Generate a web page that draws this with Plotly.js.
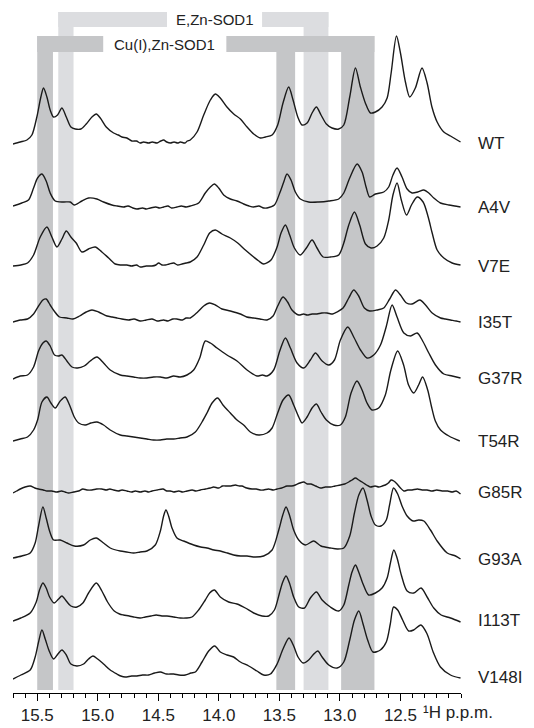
<!DOCTYPE html>
<html>
<head>
<meta charset="utf-8">
<script src="https://cdn.plot.ly/plotly-3.0.1.min.js"></script>
<style>
  html, body { margin: 0; padding: 0; background: #fff; }
  #chart { width: 534px; height: 728px; }
</style>
</head>
<body>
<div id="chart"></div>
<script>
// Imino proton region of 1H NMR spectra, [ppm, intensity] pairs per SOD1 variant
const WT = [[15.70,-1],[15.64,1],[15.585,3],[15.544,8],[15.503,26],[15.47,46],[15.448,55],[15.42,46],[15.393,33],[15.365,26],[15.332,28],[15.296,35],[15.26,26],[15.222,16],[15.186,14],[15.139,14],[15.095,19],[15.048,26],[15.012,29],[14.979,25],[14.93,16],[14.869,10],[14.83,8],[14.80,6],[14.76,5],[14.718,2],[14.68,2],[14.65,0],[14.621,1],[14.58,0],[14.55,1],[14.51,0],[14.48,2],[14.456,3],[14.43,1],[14.40,0],[14.37,1],[14.34,0],[14.318,1],[14.28,0],[14.26,2],[14.236,3],[14.18,11],[14.125,28],[14.07,43],[14.029,49],[13.988,45],[13.933,36],[13.877,29],[13.822,24],[13.767,16],[13.712,9],[13.657,5],[13.616,6],[13.56,8],[13.514,18],[13.47,40],[13.423,56],[13.387,43],[13.348,26],[13.313,18],[13.271,20],[13.23,30],[13.194,36],[13.156,28],[13.112,19],[13.065,15],[13.01,14],[12.968,18],[12.919,46],[12.872,75],[12.831,56],[12.79,40],[12.748,30],[12.707,31],[12.652,36],[12.61,45],[12.577,70],[12.533,107],[12.5,90],[12.459,61],[12.423,46],[12.377,55],[12.322,75],[12.28,60],[12.24,36],[12.197,21],[12.142,11],[12.087,7],[12.004,1]];

const A4V = [[15.70,1],[15.627,4],[15.572,7],[15.53,19],[15.497,29],[15.461,33],[15.426,26],[15.393,14],[15.351,6],[15.282,5],[15.227,5],[15.194,2],[15.131,6],[15.076,9],[15.007,8],[14.952,5],[14.883,2],[14.84,1],[14.787,0],[14.75,1],[14.71,-1],[14.676,-2],[14.63,-1],[14.60,-2],[14.566,-1],[14.52,0],[14.49,-1],[14.456,0],[14.42,1],[14.39,-1],[14.346,0],[14.31,1],[14.27,0],[14.236,1],[14.167,4],[14.112,14],[14.07,20],[14.037,23],[14.001,19],[13.96,12],[13.905,8],[13.85,6],[13.795,3],[13.75,1],[13.712,0],[13.67,1],[13.63,-1],[13.602,-1],[13.541,2],[13.497,14],[13.464,25],[13.437,33],[13.404,27],[13.368,15],[13.327,8],[13.258,5],[13.175,5],[13.092,6],[13.01,8],[12.968,14],[12.919,29],[12.858,43],[12.817,35],[12.784,20],[12.754,10],[12.707,13],[12.638,15],[12.597,20],[12.562,32],[12.528,39],[12.487,30],[12.445,18],[12.404,14],[12.357,15],[12.307,17],[12.266,14],[12.225,9],[12.17,4],[12.1,2],[12.004,0]];

const V7E = [[15.70,0],[15.635,1],[15.58,3],[15.53,11],[15.475,29],[15.42,39],[15.379,29],[15.337,19],[15.296,27],[15.26,35],[15.222,29],[15.178,23],[15.131,14],[15.076,17],[15.021,19],[14.966,14],[14.91,8],[14.855,2],[14.81,1],[14.759,1],[14.72,0],[14.68,1],[14.649,-1],[14.60,0],[14.552,0],[14.52,1],[14.497,3],[14.47,1],[14.442,1],[14.41,2],[14.373,3],[14.34,1],[14.304,2],[14.27,3],[14.236,4],[14.18,9],[14.125,21],[14.076,33],[14.029,36],[13.974,32],[13.905,28],[13.844,23],[13.781,16],[13.712,9],[13.67,5],[13.63,2],[13.569,6],[13.519,19],[13.486,33],[13.45,41],[13.415,31],[13.376,18],[13.327,11],[13.277,18],[13.23,26],[13.189,18],[13.139,9],[13.079,9],[13.01,11],[12.968,23],[12.927,41],[12.88,54],[12.837,41],[12.789,22],[12.743,18],[12.693,20],[12.638,28],[12.597,46],[12.562,71],[12.528,83],[12.493,66],[12.45,51],[12.409,61],[12.362,69],[12.313,64],[12.271,49],[12.238,33],[12.197,16],[12.142,8],[12.073,3],[12.004,1]];

const I35T = [[15.70,0],[15.64,2],[15.58,3],[15.53,8],[15.489,16],[15.453,22],[15.426,23],[15.393,17],[15.36,11],[15.316,5],[15.255,4],[15.205,3],[15.15,6],[15.095,10],[15.048,12],[14.993,10],[14.924,6],[14.88,5],[14.842,4],[14.80,3],[14.745,2],[14.70,3],[14.649,1],[14.60,2],[14.552,3],[14.51,1],[14.456,2],[14.42,1],[14.38,3],[14.346,3],[14.30,2],[14.27,4],[14.236,4],[14.175,10],[14.125,16],[14.076,19],[14.029,17],[13.974,13],[13.905,11],[13.822,8],[13.77,5],[13.712,4],[13.66,3],[13.602,2],[13.552,6],[13.514,16],[13.47,25],[13.432,20],[13.396,12],[13.34,7],[13.30,8],[13.271,7],[13.23,8],[13.189,8],[13.15,9],[13.106,9],[13.06,8],[13.023,10],[12.974,14],[12.927,24],[12.886,32],[12.845,26],[12.798,14],[12.754,11],[12.693,12],[12.638,14],[12.589,23],[12.541,32],[12.5,27],[12.45,19],[12.404,18],[12.34,22],[12.293,17],[12.238,9],[12.169,4],[12.13,3],[12.087,2],[12.04,1],[12.004,0]];

const G37R = [[15.70,-1],[15.64,2],[15.58,3],[15.53,11],[15.489,27],[15.453,35],[15.426,37],[15.393,32],[15.357,23],[15.324,22],[15.296,23],[15.255,17],[15.213,11],[15.167,10],[15.112,12],[15.062,17],[15.007,21],[14.952,15],[14.897,8],[14.814,3],[14.76,2],[14.704,1],[14.65,0],[14.594,0],[14.54,1],[14.483,1],[14.43,0],[14.373,2],[14.32,1],[14.263,3],[14.208,8],[14.158,20],[14.112,37],[14.07,35],[14.015,30],[13.933,23],[13.85,17],[13.767,8],[13.685,2],[13.64,3],[13.602,2],[13.547,8],[13.497,27],[13.45,40],[13.409,30],[13.354,15],[13.299,10],[13.244,18],[13.202,25],[13.147,17],[13.092,13],[13.045,18],[12.996,38],[12.935,51],[12.886,41],[12.83,28],[12.776,20],[12.721,23],[12.665,33],[12.616,52],[12.569,73],[12.528,61],[12.472,45],[12.417,42],[12.362,45],[12.321,38],[12.266,25],[12.211,13],[12.142,4],[12.073,2],[12.004,0]];

const T54R = [[15.70,0],[15.64,2],[15.58,4],[15.53,11],[15.497,21],[15.461,39],[15.42,44],[15.387,38],[15.351,33],[15.31,40],[15.269,44],[15.233,36],[15.194,24],[15.158,18],[15.103,16],[15.056,18],[15.007,19],[14.952,16],[14.897,11],[14.814,6],[14.76,5],[14.704,4],[14.65,3],[14.594,2],[14.54,1],[14.483,1],[14.43,2],[14.373,2],[14.32,3],[14.263,4],[14.194,9],[14.139,19],[14.098,28],[14.056,38],[14.01,43],[13.966,36],[13.905,28],[13.85,21],[13.795,16],[13.74,9],[13.671,6],[13.602,8],[13.56,13],[13.514,28],[13.47,41],[13.423,46],[13.382,36],[13.34,24],[13.313,18],[13.271,24],[13.23,33],[13.194,37],[13.156,29],[13.112,21],[13.051,16],[12.996,16],[12.955,24],[12.908,48],[12.859,60],[12.817,51],[12.776,38],[12.735,31],[12.68,33],[12.625,46],[12.579,71],[12.523,90],[12.474,76],[12.433,56],[12.39,48],[12.35,56],[12.317,64],[12.275,51],[12.245,35],[12.212,20],[12.169,11],[12.1,5],[12.01,0]];

const G85R = [[15.70,-1],[15.67,1],[15.64,3],[15.60,5],[15.558,6],[15.52,4],[15.489,3],[15.45,2],[15.42,1],[15.38,1],[15.337,0],[15.30,1],[15.27,0],[15.241,-1],[15.20,0],[15.158,1],[15.123,3],[15.09,2],[15.048,2],[15.01,3],[14.966,3],[14.93,2],[14.90,3],[14.869,2],[14.83,1],[14.80,2],[14.759,1],[14.72,0],[14.69,1],[14.649,0],[14.61,1],[14.58,0],[14.552,1],[14.51,2],[14.461,3],[14.43,1],[14.40,1],[14.373,0],[14.33,1],[14.30,0],[14.263,1],[14.22,2],[14.19,1],[14.153,2],[14.11,3],[14.07,4],[14.043,5],[14.00,4],[13.97,6],[13.933,6],[13.90,6],[13.864,7],[13.83,6],[13.809,6],[13.77,4],[13.726,3],[13.69,3],[13.66,2],[13.63,2],[13.59,3],[13.55,2],[13.519,3],[13.48,4],[13.437,6],[13.40,6],[13.368,7],[13.33,9],[13.299,10],[13.27,8],[13.238,8],[13.20,6],[13.161,4],[13.12,5],[13.079,5],[13.04,6],[12.996,7],[12.96,8],[12.927,10],[12.90,12],[12.872,14],[12.845,12],[12.817,10],[12.78,7],[12.748,5],[12.71,6],[12.679,5],[12.65,6],[12.625,7],[12.60,9],[12.577,12],[12.555,11],[12.528,8],[12.50,4],[12.472,1],[12.44,2],[12.404,2],[12.36,3],[12.321,2],[12.28,2],[12.238,1],[12.20,2],[12.156,1],[12.11,1],[12.073,0],[12.04,1],[12.004,-2]];

const G93A = [[15.70,1],[15.627,3],[15.558,6],[15.517,16],[15.489,33],[15.453,52],[15.426,41],[15.398,28],[15.365,19],[15.31,19],[15.255,16],[15.194,13],[15.117,14],[15.062,19],[15.012,21],[14.952,16],[14.897,11],[14.814,8],[14.76,7],[14.704,6],[14.65,7],[14.594,8],[14.525,14],[14.483,28],[14.456,43],[14.437,49],[14.415,43],[14.387,31],[14.346,21],[14.291,18],[14.208,14],[14.15,12],[14.098,11],[14.04,9],[13.988,8],[13.93,6],[13.878,4],[13.82,3],[13.767,3],[13.70,2],[13.63,3],[13.56,9],[13.505,29],[13.472,44],[13.445,52],[13.417,44],[13.382,29],[13.34,19],[13.285,14],[13.216,18],[13.156,13],[13.079,11],[13.02,10],[12.968,11],[12.919,23],[12.88,46],[12.844,64],[12.809,71],[12.776,59],[12.743,43],[12.707,34],[12.661,33],[12.617,39],[12.59,54],[12.557,71],[12.523,65],[12.487,53],[12.445,43],[12.395,38],[12.349,39],[12.307,38],[12.252,29],[12.197,18],[12.114,6],[12.045,3],[12.004,0]];

const I113T = [[15.70,-1],[15.635,2],[15.558,7],[15.508,18],[15.481,30],[15.453,37],[15.426,32],[15.398,23],[15.36,17],[15.324,21],[15.296,24],[15.26,19],[15.222,14],[15.172,13],[15.123,17],[15.076,27],[15.012,37],[14.966,29],[14.919,18],[14.864,9],[14.82,6],[14.787,5],[14.74,4],[14.704,3],[14.65,2],[14.607,3],[14.56,4],[14.517,5],[14.47,4],[14.428,4],[14.37,3],[14.318,2],[14.27,2],[14.222,3],[14.167,10],[14.112,20],[14.076,27],[14.037,30],[13.988,23],[13.919,18],[13.85,16],[13.781,12],[13.712,7],[13.643,4],[13.588,4],[13.541,10],[13.497,28],[13.472,38],[13.445,44],[13.417,37],[13.382,23],[13.34,13],[13.293,12],[13.244,22],[13.194,28],[13.147,20],[13.079,13],[13.01,9],[12.968,15],[12.927,35],[12.9,48],[12.872,55],[12.845,48],[12.809,36],[12.763,25],[12.707,27],[12.652,32],[12.61,42],[12.583,57],[12.555,70],[12.528,62],[12.493,45],[12.445,29],[12.39,27],[12.33,32],[12.28,23],[12.225,12],[12.164,5],[12.087,2],[12.004,-2]];

const V148I = [[15.70,-2],[15.635,2],[15.558,7],[15.517,20],[15.489,35],[15.461,47],[15.434,38],[15.401,26],[15.365,18],[15.329,23],[15.296,27],[15.26,22],[15.222,13],[15.172,11],[15.117,13],[15.076,18],[15.04,21],[15.001,18],[14.952,13],[14.897,7],[14.842,3],[14.81,1],[14.773,0],[14.72,1],[14.676,1],[14.63,2],[14.58,2],[14.53,4],[14.483,5],[14.43,3],[14.373,3],[14.33,2],[14.277,2],[14.23,4],[14.194,5],[14.139,15],[14.084,26],[14.034,31],[13.988,25],[13.933,22],[13.878,20],[13.822,15],[13.753,11],[13.685,6],[13.63,2],[13.574,3],[13.519,13],[13.47,28],[13.42,39],[13.382,31],[13.346,20],[13.304,14],[13.258,17],[13.216,23],[13.183,26],[13.147,20],[13.092,12],[13.023,9],[12.968,15],[12.919,37],[12.88,57],[12.844,66],[12.809,53],[12.771,37],[12.727,25],[12.666,27],[12.617,35],[12.584,53],[12.557,70],[12.523,67],[12.482,57],[12.432,46],[12.391,47],[12.331,52],[12.28,43],[12.23,25],[12.17,10],[12.087,2],[12.004,-1]];

const variants = ["WT", "A4V", "V7E", "I35T", "G37R", "T54R", "G85R", "G93A", "I113T", "V148I"];
const spectra  = [WT, A4V, V7E, I35T, G37R, T54R, G85R, G93A, I113T, V148I];
const tickValues = [15.5, 15.0, 14.5, 14.0, 13.5, 13.0, 12.5];

// ---- layout constants (pixels from the top of the plot area) ----
const H = 693;                                   // plot-area height; y data = H - pixel
const baselines = [143, 207, 266, 322, 378, 441, 492, 559, 620, 677];
const FONT = '"Liberation Sans", Arial, Helvetica, sans-serif';
const INK = '#1a1a1a';
const DARK = '#c5c6c8';
const LIGHT = '#dcdde0';

const traces = spectra.map((s, k) => ({
  type: 'scatter',
  mode: 'lines',
  x: s.map(p => p[0]),
  y: s.map(p => H - baselines[k] + p[1]),
  line: { color: INK, width: 1.4, shape: 'spline', smoothing: 0.8 },
  hoverinfo: 'skip'
}));

function rect(x0, x1, top, bottom, color) {
  return { type: 'rect', xref: 'x', yref: 'y', x0: x0, x1: x1,
           y0: H - bottom, y1: H - top, fillcolor: color,
           line: { width: 0 }, layer: 'below' };
}

const shapes = [
  // E,Zn-SOD1 bracket
  rect(15.326, 15.20, 12, 690, LIGHT),
  rect(13.30, 13.095, 12, 690, LIGHT),
  rect(15.326, 14.428, 12, 27, LIGHT),
  rect(13.643, 13.095, 12, 27, LIGHT),
  // Cu(I),Zn-SOD1 bracket
  rect(15.50, 15.37, 36, 690, DARK),
  rect(13.525, 13.37, 36, 690, DARK),
  rect(12.99, 12.715, 36, 690, DARK),
  rect(15.50, 14.955, 36, 52, DARK),
  rect(13.938, 12.715, 36, 52, DARK)
];

const annotations = [
  { text: 'E,Zn-SOD1', x: 14.035, y: H - 19.5, xref: 'x', yref: 'y',
    showarrow: false, xanchor: 'center', yanchor: 'middle',
    font: { family: FONT, size: 15, color: '#222' } },
  { text: 'Cu(I),Zn-SOD1', x: 14.448, y: H - 44, xref: 'x', yref: 'y',
    showarrow: false, xanchor: 'center', yanchor: 'middle',
    font: { family: FONT, size: 15, color: '#222' } },
  { text: '¹H p.p.m.', x: (421 - 13) / 448, y: -19 / H, xref: 'paper', yref: 'paper',
    showarrow: false, xanchor: 'left', yanchor: 'middle',
    font: { family: FONT, size: 17, color: '#222' } }
].concat(variants.map((name, k) => ({
  text: name, x: (476 - 13) / 448, y: H - baselines[k], xref: 'paper', yref: 'y',
  showarrow: false, xanchor: 'left', yanchor: 'middle',
  font: { family: FONT, size: 17, color: '#222' }
})));

const layout = {
  width: 534, height: 728,
  margin: { l: 13, r: 73, t: 0, b: 35, pad: 0 },
  paper_bgcolor: '#fff', plot_bgcolor: '#fff',
  showlegend: false,
  font: { family: FONT, color: '#222' },
  xaxis: {
    range: [15.7, 12.0],
    tickmode: 'array', tickvals: tickValues,
    ticktext: tickValues.map(v => v.toFixed(1)),
    ticks: 'outside', ticklen: 7, tickwidth: 1, tickcolor: '#000',
    showline: true, linecolor: '#000', linewidth: 1,
    showgrid: false, zeroline: false,
    tickfont: { family: FONT, size: 17, color: '#222' },
    minor: { tickmode: 'linear', tick0: 0, dtick: 0.1, ticks: 'outside',
             ticklen: 4, tickwidth: 1, tickcolor: '#000', showgrid: false }
  },
  yaxis: { range: [0, H], visible: false, fixedrange: true },
  shapes: shapes,
  annotations: annotations
};

Plotly.newPlot('chart', traces, layout, { staticPlot: true, displayModeBar: false });
</script>
</body>
</html>
